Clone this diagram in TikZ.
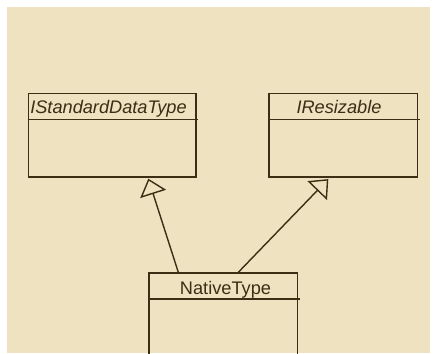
\documentclass[tikz,border=0pt]{standalone}
\usepackage{fontspec}
\setmainfont{Liberation Sans}
\usetikzlibrary{arrows.meta,calc}
\definecolor{bg}{RGB}{239,226,192}
\definecolor{ink}{RGB}{58,46,20}
\begin{document}
\begin{tikzpicture}[x=1pt,y=-1pt,
  classbox/.style={draw=ink, line width=1.6pt, inner sep=0pt, anchor=north west, minimum height=83.6pt},
  title/.style={anchor=base, text=ink, inner sep=0pt, font=\fontsize{18.2}{20}\selectfont},
  ititle/.style={title, font=\fontsize{18.2}{20}\selectfont\itshape},
  sep/.style={draw=ink, line width=1.6pt},
  gen/.style={draw=ink, line width=1.4pt, -{Triangle[open, length=16pt, width=27pt, line width=1.4pt]}}]
\useasboundingbox (0,0) rectangle (433,353);
\fill[white] (0,0) rectangle (433,353);
\fill[bg] (7,7) rectangle (430,353);
\begin{scope}
\clip (0,0) rectangle (433,353);
% classes
\node[classbox, minimum width=167.3pt] (std) at (27.7,92.7) {};
\node[classbox, minimum width=148.4pt] (res) at (268.3,92.7) {};
\node[classbox, minimum width=148.4pt, minimum height=100pt] (nat) at (148.3,272.3) {};
% separators
\draw[sep] ($(std.north west)+(0,26.6)$) -- ($(std.north east)+(1.2,26.6)$);
\draw[sep] ($(res.north west)+(0,26.6)$) -- ($(res.north east)+(1.2,26.6)$);
\draw[sep] ($(nat.north west)+(0,26.7)$) -- ($(nat.north east)+(1.2,26.7)$);
% titles
\node[ititle] (stdt) at (108.5,113.5) {IStandardDataType};
\node[ititle] (rest) at (339,113.5) {IResizable};
\node[title] (natt) at (225.5,294) {NativeType};
% generalisations
\coordinate (a1) at ($(nat.north west)+(30,0)$);
\coordinate (t1) at ($(std.south west)+(120.6,0.8)$);
\coordinate (a2) at ($(nat.north west)+(90,0)$);
\coordinate (t2) at ($(res.south west)+(60,1.2)$);
\draw[gen] (a1) -- (t1);
\draw[gen] (a2) -- (t2);
\end{scope}
\end{tikzpicture}
\end{document}
